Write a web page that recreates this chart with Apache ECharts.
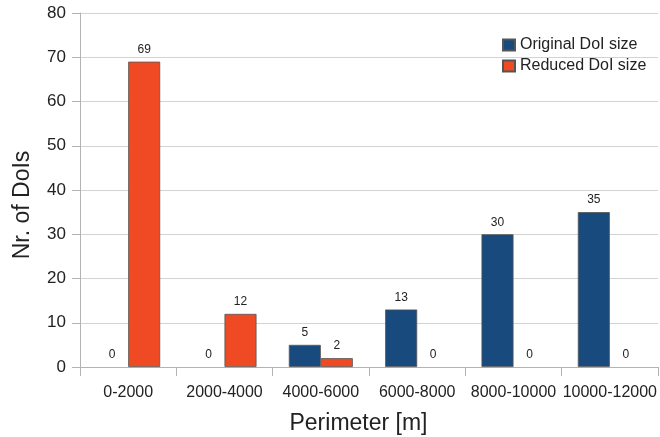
<!DOCTYPE html>
<html>
<head>
<meta charset="utf-8">
<script src="https://cdn.jsdelivr.net/npm/echarts@6/dist/echarts.min.js"></script>
<style>html,body{margin:0;padding:0;background:#fff}#c{width:660px;height:437px}</style>
</head>
<body>
<div id="c"></div>
<script>
var categories = ['0-2000','2000-4000','4000-6000','6000-8000','8000-10000','10000-12000'];
var originalSize = [0, 0, 5, 13, 30, 35];
var reducedSize = [69, 12, 2, 0, 0, 0];
var yTicks = [0, 10, 20, 30, 40, 50, 60, 70, 80];

function toItems(arr) {
  return arr.map(function (v) {
    return v === 0 ? {value: v, itemStyle: {borderWidth: 0}} : v;
  });
}

var chart = echarts.init(document.getElementById('c'), null, {renderer: 'canvas'});
var font = 'Liberation Sans, Arial, sans-serif';
var labelCfg = {show: true, position: 'top', distance: 6, fontSize: 12, color: '#222', fontFamily: font};
chart.setOption({
  animation: false,
  textStyle: {fontFamily: font},
  grid: {left: 80, right: 2, top: 13, bottom: 70, containLabel: false, outerBoundsMode: 'none'},
  legend: {
    orient: 'vertical', left: 497, top: 32, itemWidth: 12, itemHeight: 11, itemGap: 5,
    icon: 'rect',
    textStyle: {fontSize: 16, color: '#222', fontFamily: font},
    data: ['Original DoI size', 'Reduced DoI size']
  },
  xAxis: {
    type: 'category', data: categories,
    name: 'Perimeter [m]', nameLocation: 'middle', nameGap: 45,
    nameTextStyle: {fontSize: 23, color: '#222', fontFamily: font, padding: [0, 21, 0, 0]},
    axisLine: {lineStyle: {color: '#b3b3b3'}},
    axisTick: {show: true, length: 9, alignWithLabel: false, lineStyle: {color: '#b3b3b3'}},
    axisLabel: {fontSize: 16, color: '#222', margin: 18, interval: 0, fontFamily: font},
    splitLine: {show: false}
  },
  yAxis: {
    type: 'value', min: yTicks[0], max: yTicks[yTicks.length - 1], interval: 10,
    name: 'Nr. of DoIs', nameLocation: 'middle', nameGap: 46,
    nameTextStyle: {fontSize: 23, color: '#222', fontFamily: font, padding: [0, 30, 0, 0]},
    axisLine: {show: true, lineStyle: {color: '#b3b3b3'}},
    axisTick: {show: true, length: 8, lineStyle: {color: '#b3b3b3'}},
    axisLabel: {fontSize: 17, color: '#222', margin: 14, fontFamily: font},
    splitLine: {lineStyle: {color: '#d3d3d3'}}
  },
  series: [
    {name: 'Original DoI size', type: 'bar', data: toItems(originalSize), barWidth: 32, barGap: '0%',
     itemStyle: {color: '#184a7e', borderColor: '#555', borderWidth: 0.8}, label: labelCfg},
    {name: 'Reduced DoI size', type: 'bar', data: toItems(reducedSize), barWidth: 32, barGap: '0%',
     itemStyle: {color: '#ef4a23', borderColor: '#555', borderWidth: 0.8}, label: labelCfg}
  ]
});
</script>
</body>
</html>
